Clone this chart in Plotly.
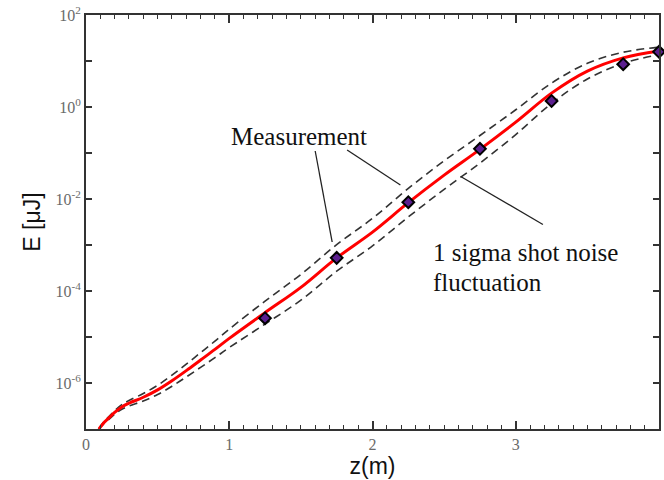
import plotly.graph_objects as go

# ---- data ----
z_fit = [0.09, 0.12, 0.16, 0.2, 0.25, 0.3, 0.4, 0.5, 0.6, 0.7, 0.8, 0.9, 1.0,
         1.25, 1.5, 1.75, 2.0, 2.25, 2.5, 2.75, 3.0, 3.25, 3.5, 3.75, 4.0]
E_fit = [1.00e-7, 1.32e-7, 1.74e-7, 2.29e-7, 3.02e-7, 3.63e-7, 4.90e-7, 7.08e-7,
         1.12e-6, 1.86e-6, 3.16e-6, 5.37e-6, 9.33e-6, 3.39e-5, 1.20e-4, 5.25e-4,
         1.91e-3, 8.32e-3, 3.31e-2, 0.120, 0.468, 2.00, 6.03, 11.7, 16.6]
E_upper = [1.00e-7, 1.38e-7, 1.86e-7, 2.51e-7, 3.39e-7, 4.17e-7, 5.89e-7, 8.91e-7,
           1.48e-6, 2.57e-6, 4.57e-6, 8.13e-6, 1.48e-5, 6.03e-5, 2.29e-4, 1.02e-3,
           3.80e-3, 1.70e-2, 6.76e-2, 0.240, 0.871, 3.31, 8.91, 15.5, 20.0]
E_lower = [1.00e-7, 1.26e-7, 1.62e-7, 2.09e-7, 2.69e-7, 3.16e-7, 4.07e-7, 5.62e-7,
           8.51e-7, 1.35e-6, 2.19e-6, 3.55e-6, 5.89e-6, 1.91e-5, 6.31e-5, 2.69e-4,
           9.55e-4, 4.07e-3, 1.62e-2, 6.03e-2, 0.251, 1.20, 4.07, 8.91, 13.8]
z_meas = [1.25, 1.75, 2.25, 2.75, 3.25, 3.75, 4.0]
E_meas = [2.57e-5, 5.25e-4, 8.51e-3, 0.123, 1.35, 8.51, 15.8]

x_ticks = [0, 1, 2, 3]
y_ticks = [1e-7, 1e-6, 1e-5, 1e-4, 1e-3, 1e-2, 1e-1, 1, 10, 100]
y_ticktext = ["", "10<sup>-6</sup>", "", "10<sup>-4</sup>", "", "10<sup>-2</sup>", "",
              "10<sup>0</sup>", "", "10<sup>2</sup>"]

fig = go.Figure()
dash_style = dict(color="#333333", width=1.6, dash="8px,5px", shape="spline")
fig.add_trace(go.Scatter(x=z_fit, y=E_upper, mode="lines", line=dash_style, hoverinfo="skip"))
fig.add_trace(go.Scatter(x=z_fit, y=E_lower, mode="lines", line=dash_style, hoverinfo="skip"))
fig.add_trace(go.Scatter(x=z_fit, y=E_fit, mode="lines",
                         line=dict(color="#ff0000", width=3, shape="spline")))
fig.add_trace(go.Scatter(x=z_meas, y=E_meas, mode="markers", cliponaxis=False,
                         marker=dict(symbol="diamond", size=9, color="#5b1f8f",
                                     line=dict(color="black", width=2))))

axis_common = dict(showline=True, linecolor="#333333", linewidth=2, mirror="allticks",
                   ticks="inside", tickwidth=1.5, tickcolor="#333333",
                   showgrid=False, zeroline=False,
                   tickfont=dict(family="Liberation Serif", size=16, color="#6a6a6a"))

fig.update_xaxes(range=[0, 4], tickvals=x_ticks, ticklen=8,
                 minor=dict(dtick=0.1, ticks="inside", ticklen=4, tickwidth=1.2, tickcolor="#333333"),
                 title=dict(text="z(m)", font=dict(family="Liberation Sans", size=23, color="#111111"),
                            standoff=4),
                 **axis_common)
fig.update_yaxes(type="log", range=[-7, 2], tickvals=y_ticks, ticktext=y_ticktext, ticklen=6,
                 title=dict(text="E [μJ]", font=dict(family="Liberation Sans", size=23, color="#111111"),
                            standoff=8),
                 **axis_common)

txt_font = dict(family="Liberation Serif", size=25, color="#111111")
fig.add_annotation(x=0.372, y=0.706, xref="paper", yref="paper", text="Measurement",
                   showarrow=False, font=txt_font, xanchor="center", yanchor="middle")
fig.add_annotation(x=0.602, y=0.4275, xref="paper", yref="paper", text="1 sigma shot noise",
                   showarrow=False, font=txt_font, xanchor="left", yanchor="middle")
fig.add_annotation(x=0.602, y=0.355, xref="paper", yref="paper", text="fluctuation",
                   showarrow=False, font=txt_font, xanchor="left", yanchor="middle")

leader = dict(color="#222222", width=1.3)
for (x0, y0, x1, y1) in [(0.400, 0.6715, 0.4296, 0.4517),
                         (0.4557, 0.6739, 0.5487, 0.5894),
                         (0.6539, 0.6099, 0.7974, 0.494)]:
    fig.add_shape(type="line", xref="paper", yref="paper", x0=x0, y0=y0, x1=x1, y1=y1, line=leader)

fig.update_layout(width=664, height=480, showlegend=False,
                  margin=dict(l=86, r=3, t=15, b=51),
                  paper_bgcolor="white", plot_bgcolor="white")

fig.write_html("out.html", config={"displayModeBar": False},
               post_script="document.body.style.margin='0';document.body.style.overflow='hidden';")
